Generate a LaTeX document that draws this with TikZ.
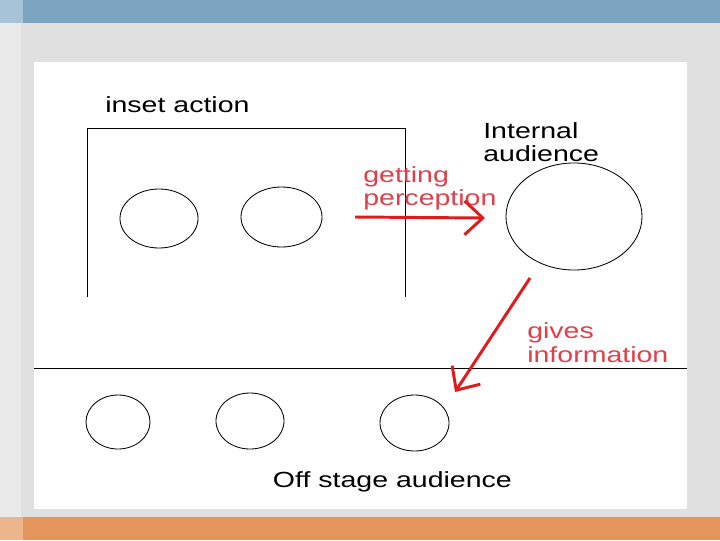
\documentclass[tikz,border=0pt]{standalone}
\usepackage{fontspec}
\setmainfont[FakeStretch=1.3]{Liberation Sans}
\usetikzlibrary{arrows.meta,shapes.geometric}
\definecolor{Band}{HTML}{7BA4C1}
\definecolor{BandLt}{HTML}{A6C3D8}
\definecolor{Foot}{HTML}{E3955B}
\definecolor{FootLt}{HTML}{EDB58C}
\definecolor{Slide}{HTML}{E0E0E0}
\definecolor{SlideLt}{HTML}{EAEAEA}
\definecolor{Pen}{HTML}{E01B1B}
\definecolor{PenText}{HTML}{E0404A}
\tikzset{actor/.style={ellipse,draw,line width=.6pt,inner sep=0pt},caption/.style={anchor=north west,inner sep=0pt,align=left,font=\fontsize{15.6}{16.7}\selectfont},note/.style={caption,text=PenText},cue/.style={-{Straight Barb[length=13pt,width=24pt]},draw=Pen,line width=2.1pt}}
\begin{document}
\begin{tikzpicture}[x=0.025cm,y=-0.025cm]
\useasboundingbox (0,0) rectangle (720,540);
% slide background
\fill[Slide] (0,0) rectangle (720,540);
\fill[SlideLt] (0,0) rectangle (21,540);
\fill[Band] (0,0) rectangle (720,22.7);\fill[BandLt] (0,0) rectangle (23,22.7);
\fill[Foot] (0,516.7) rectangle (720,540);\fill[FootLt] (0,516.7) rectangle (23,540);
\fill[white] (34,62) rectangle (687,509);
% inset stage and the audiences
\draw[line width=.7pt] (87,297) |- (405,128) -- (405,297);
\draw[line width=.7pt] (34,368) -- (687,368);
\node[caption] (inset) at (105,96.5) {inset action};
\node[actor,minimum width=1.95cm,minimum height=1.475cm] (actorA) at (159,218.5) {};
\node[actor,minimum width=2.025cm,minimum height=1.5cm] (actorB) at (281.5,217) {};
\node[actor,minimum width=3.4cm,minimum height=2.675cm] (inner) at (574,216.5) {};
\node[caption] (innerlbl) at (483,122) {Internal\\audience};
\node[actor,minimum width=1.6cm,minimum height=1.35cm] (offA) at (118,422) {};
\node[actor,minimum width=1.7cm,minimum height=1.4cm] (offB) at (250,421) {};
\node[actor,minimum width=1.725cm,minimum height=1.4cm] (offC) at (414.5,423) {};
\node[caption] (offlbl) at (272.7,471.5) {Off stage audience};
% red cues
\node[note] (getting) at (363,166) {getting\\perception};
\node[note] (gives) at (527,322.5) {gives\\information};
\coordinate (see) at (355,217);\coordinate (seen) at (485,218);
\coordinate (tell) at (530,278);\coordinate (told) at (455,392);
\draw[cue] (see) -- (seen);
\draw[cue] (tell) -- (told);
\end{tikzpicture}
\end{document}
